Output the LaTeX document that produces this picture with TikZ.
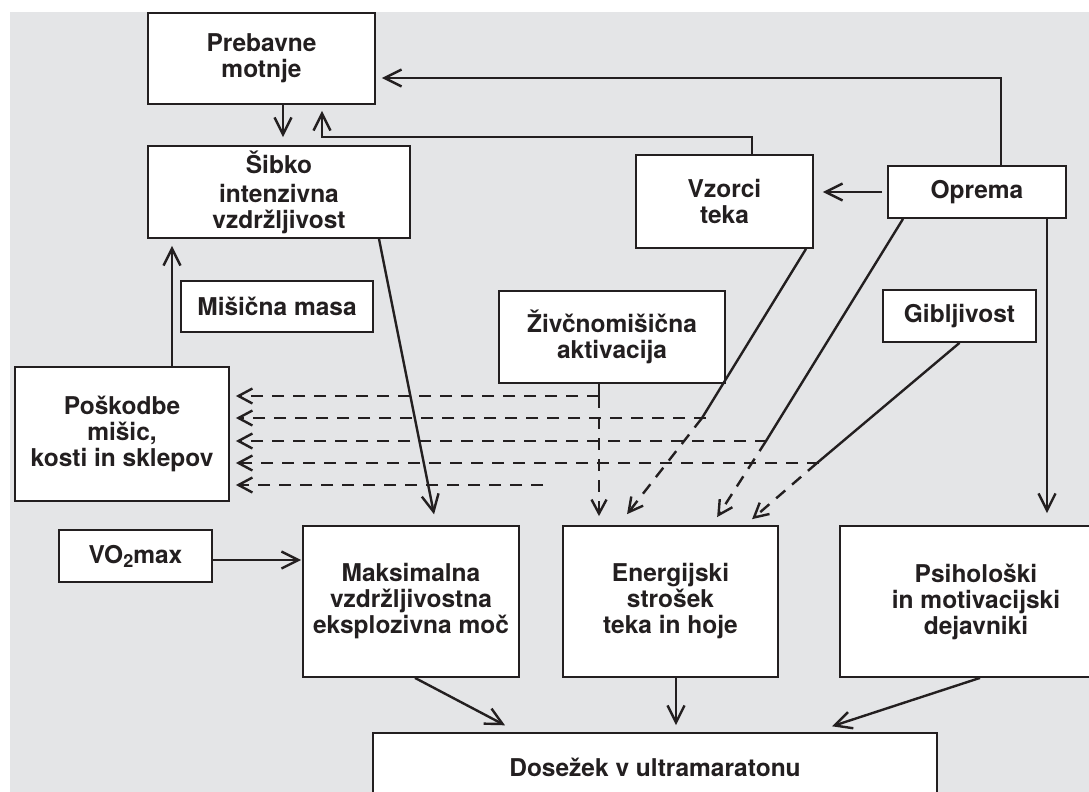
\documentclass[tikz,border=0pt]{standalone}
\usepackage{fontspec}
\setmainfont{TeX Gyre Heros}
\usetikzlibrary{arrows.meta,calc}
\definecolor{bg}{RGB}{228,229,231}
\definecolor{ink}{RGB}{35,31,32}
\begin{document}
\begin{tikzpicture}[x=1pt,y=-1pt,
  box/.style={draw=ink, line width=1.8pt, fill=white, align=center, inner sep=0pt,
    font=\fontsize{24.5}{26}\selectfont\bfseries, text=ink},
  ln/.style={draw=ink, line width=2.4pt},
  arr/.style={ln, -{Straight Barb[length=17pt,width=17pt]}},
  darr/.style={ln, dash pattern=on 12pt off 9pt, -{Straight Barb[length=14pt,width=15pt]}}]
\useasboundingbox (0,0) rectangle (1089,792);
\clip (0,0) rectangle (1089,792);
\fill[white] (0,0) rectangle (1089,792);
\fill[bg] (10,12) rectangle (1089,792);

% nodes
\node[box, minimum width=227pt, minimum height=91pt] (preb) at (261.5,58.5) {Prebavne\\motnje};
\node[box, minimum width=262pt, minimum height=92pt] (sibko) at (279,192) {Šibko\\[3pt]intenzivna\\vzdržljivost};
\node[box, minimum width=177pt, minimum height=93pt] (vzorci) at (724.5,201.5) {Vzorci\\teka};
\node[box, minimum width=178pt, minimum height=52pt] (oprema) at (977,192) {Oprema};
\node[box, minimum width=192pt, minimum height=51pt] (misicna) at (277,306.5) {Mišična masa};
\node[box, minimum width=226pt, minimum height=92pt] (zivc) at (612,337) {Živčnomišična\\aktivacija};
\node[box, minimum width=153pt, minimum height=52pt] (gib) at (959.5,316) {Gibljivost};
\node[box, minimum width=214pt, minimum height=134pt] (posk) at (122,434) {Poškodbe\\mišic,\\kosti in sklepov};
\node[box, minimum width=153pt, minimum height=52pt] (vo2) at (135.5,556) {VO\raisebox{-4pt}{\fontsize{18}{18}\selectfont 2}max};
\node[box, minimum width=216pt, minimum height=151pt] (maks) at (411,601.5) {Maksimalna\\vzdržljivostna\\eksplozivna moč};
\node[box, minimum width=215pt, minimum height=151pt] (energ) at (670.5,601.5) {Energijski\\strošek\\teka in hoje};
\node[box, minimum width=272pt, minimum height=151pt] (psih) at (976,601.5) {Psihološki\\in motivacijski\\dejavniki};
\node[box, minimum width=564pt, minimum height=68pt] (dos) at (655,767) {Dosežek v ultramaratonu};

% junction coordinates
\coordinate (b1) at (322,137);
\coordinate (c1) at (1001,78);
\coordinate (jZ) at (599,396);
\coordinate (jV) at (702,418);
\coordinate (hV) at (706,418);
\coordinate (jO) at (766,441);
\coordinate (hO) at (767,441);
\coordinate (jG) at (817,463);
\coordinate (hG) at (819,463);
\coordinate (f5) at (543,485);

% top connectors
\draw[arr, shorten >=8pt] ([xshift=21.5pt]preb.south) -- ([xshift=4pt]sibko.north);
\draw[arr, shorten >=6pt] ([xshift=27.5pt]vzorci.north) |- (b1) -- (b1 |- preb.south);
\draw[arr, shorten >=6pt] ([xshift=24pt]oprema.north) |- (c1 -| preb.east);
\draw[arr, shorten <=5pt, shorten >=9pt] (oprema.west) -- (vzorci.east |- oprema.west);
\draw[arr, shorten >=12pt] ([xshift=70pt]oprema.south) -- ([xshift=70pt]oprema.south |- psih.north);
\draw[arr, shorten >=7pt] ([xshift=50pt]posk.north) -- ([xshift=50pt]posk.north |- sibko.south);
\draw[arr, shorten >=11pt] ([xshift=100pt]sibko.south) -- ([xshift=25.2pt]maks.north);

% lines into Energijski
\draw[ln] ([xshift=-13pt]zivc.south) -- (jZ);
\draw[darr, shorten >=9pt] (jZ) -- (jZ |- energ.north);
\draw[ln] ([xshift=81.5pt]vzorci.south) -- (jV);
\draw[darr, shorten >=13.9pt] (jV) -- ([xshift=-52pt]energ.north);
\draw[ln] ([xshift=-74pt]oprema.south) -- (jO);
\draw[darr, shorten >=9.5pt] (jO) -- ([xshift=41.5pt]energ.north);
\draw[ln] (gib.south) -- (jG);
\draw[darr, shorten >=9.1pt] (jG) -- ([xshift=74.7pt]energ.north);

% dashed lines to Poskodbe
\draw[darr, shorten >=6pt] (jZ) -- (jZ -| posk.east);
\draw[darr, shorten >=6pt] (hV) -- (hV -| posk.east);
\draw[darr, shorten >=6pt] (hO) -- (hO -| posk.east);
\draw[darr, shorten >=6pt] (hG) -- (hG -| posk.east);
\draw[darr, shorten >=6pt] (f5) -- (f5 -| posk.east);

% bottom connectors
\draw[arr, shorten >=1pt] ([yshift=-4pt]vo2.east) -- ([yshift=-4pt]vo2.east -| maks.west);
\draw[arr, shorten >=14.6pt] ([xshift=4pt]maks.south) -- ([xshift=-137.1pt]dos.north);
\draw[arr, shorten >=7pt] ([xshift=5.5pt]energ.south) -- ([xshift=5.5pt]energ.south |- dos.north);
\draw[arr, shorten >=18.7pt] ([xshift=4pt]psih.south) -- ([xshift=159.2pt]dos.north);
\end{tikzpicture}
\end{document}
